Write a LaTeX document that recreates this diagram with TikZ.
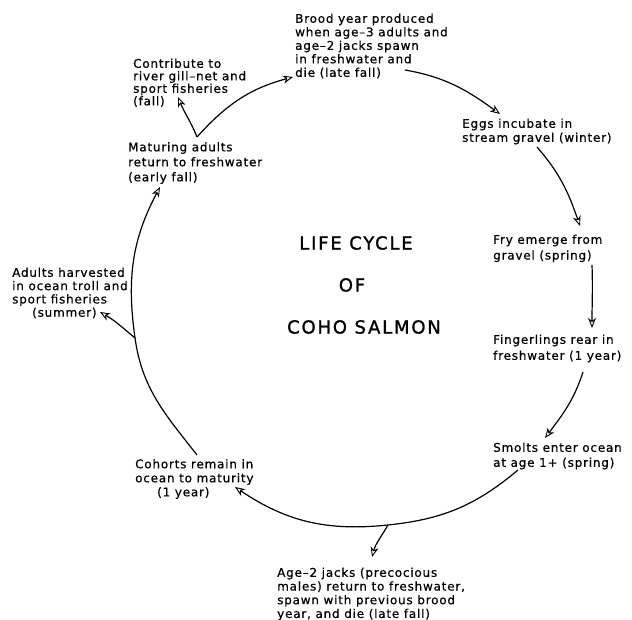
\documentclass[tikz,border=0pt]{standalone}
\usepackage{fontspec}
\usetikzlibrary{arrows.meta}
\newfontfamily\lblfont{DejaVu Sans}[LetterSpace=6.5,FakeBold=0.6]
\newfontfamily\ttlfont{DejaVu Sans}[LetterSpace=10,FakeBold=1.2]
\begin{document}
\begin{tikzpicture}[x=1pt,y=1pt,
  lbl/.style={font=\lblfont\fontsize{12}{#1}\selectfont, anchor=north west, inner sep=0pt, align=left},
  ttl/.style={font=\ttlfont\fontsize{18}{20}\selectfont, inner sep=0pt, anchor=center},
  cyc/.style={line width=1.2pt, -{Stealth[open,length=10pt,width=8pt,inset=3pt,line width=0.9pt]}},
  plain/.style={line width=1.2pt}]
\useasboundingbox (0,0) rectangle (632,620);

% labels
\node[lbl=13.5] (brood) at (295,606.5) {Brood year produced\\when age–3 adults and\\age–2 jacks spawn\\in freshwater and\\die (late fall)};
\node[lbl=12.5] (contrib) at (133,561.5) {Contribute to\\river gill–net and\\sport fisheries\\(fall)};
\node[lbl=15] (matur) at (128,478) {Maturing adults\\return to freshwater\\(early fall)};
\node[lbl=14] (eggs) at (462,501.5) {Eggs incubate in\\stream gravel (winter)};
\node[lbl=15.7] (fry) at (493,385.5) {Fry emerge from\\gravel (spring)};
\node[lbl=16] (finger) at (493,285.5) {Fingerlings rear in\\freshwater (1 year)};
\node[lbl=15] (smolts) at (493,177.5) {Smolts enter ocean\\at age 1+ (spring)};
\node[lbl=14] (cohorts) at (135,161) {Cohorts remain in\\ocean to maturity\\\hspace*{22pt}(1 year)};
\node[lbl=13.3] (adults) at (12,352.5) {Adults harvested\\in ocean troll and\\sport fisheries\\\hspace*{20pt}(summer)};
\node[lbl=13.7] (jacks) at (277,52.5) {Age–2 jacks (precocious\\males) return to freshwater,\\spawn with previous brood\\year, and die (late fall)};

% title
\node[ttl] (t1) at (356,377) {LIFE CYCLE};
\node[ttl] (t2) at (352,335) {OF};
\node[ttl] (t3) at (364,293) {COHO SALMON};

% connector points
\coordinate (a1) at (405,550);
\coordinate (a2) at (500,506);
\coordinate (b1) at (537,473);
\coordinate (b2) at (580,394);
\coordinate (c1) at (592,355);
\coordinate (c2) at (592,292);
\coordinate (d1) at (583,248);
\coordinate (d2) at (545,182);
\coordinate (e1) at (518,150);
\coordinate (eb) at (388,95);
\coordinate (e2) at (235,133);
\coordinate (f2) at (372,63);
\coordinate (g1) at (197,165);
\coordinate (gb) at (135,282);
\coordinate (g2) at (100,308);
\coordinate (h2) at (160,433);
\coordinate (i1) at (197,483);
\coordinate (i2) at (293,543);
\coordinate (k2) at (178,523);

% cycle
\draw[cyc] (a1) to[out=-10,in=144] (a2);
\draw[cyc] (b1) to[out=-49,in=109] (b2);
\draw[cyc] (c1) to[out=-88,in=90] (c2);
\draw[cyc] (d1) to[out=-108,in=53] (d2);
\draw[plain] (e1) to[out=-140,in=6] (eb);
\draw[cyc] (eb) to[out=186,in=-34] (e2);
\draw[cyc] (eb) to[out=-120,in=75] (f2);
\draw[plain] (g1) to[out=128,in=-82] (gb);
\draw[cyc] (gb) to[out=98,in=-118] (h2);
\draw[cyc] (gb) to[out=140,in=-30] (g2);
\draw[cyc] (i1) to[out=48,in=195] (i2);
\draw[cyc] (i1) to[out=112,in=-68] (k2);
\end{tikzpicture}
\end{document}
